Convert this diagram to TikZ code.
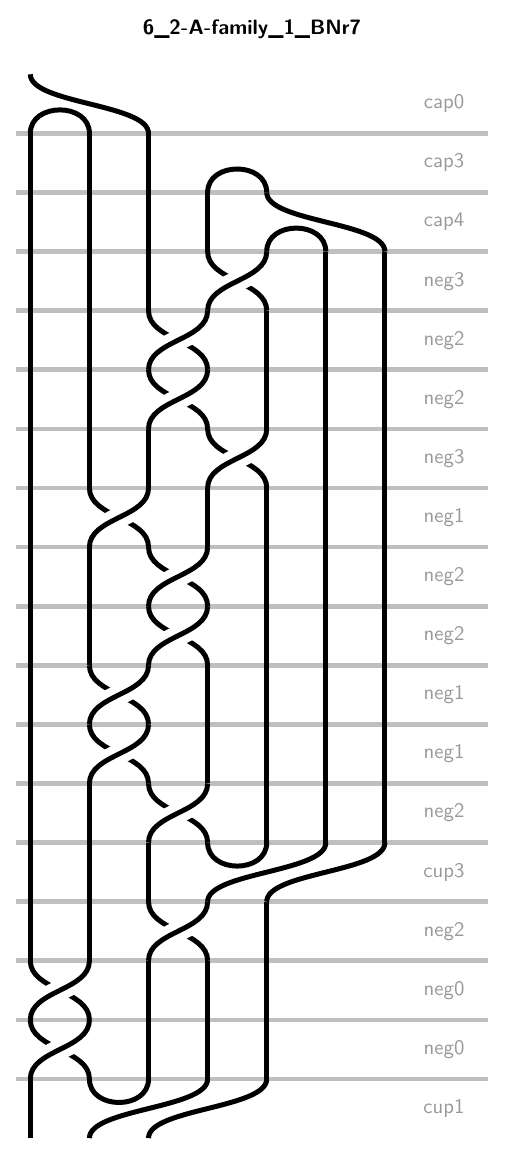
\documentclass[tikz,border=0pt]{standalone}
\tikzset{
 strand/.style={line width=2.4pt,black},
 halo/.style={line width=10pt,white},
 rail/.style={line width=2.3pt,gray!50},
 lbl/.style={text=gray!80,font=\sffamily},
}
\newcommand\vst[2]{\draw[strand] (#1,-#2) -- (#1,-#2-1);}
\newcommand\crs[2]{%
 \draw[strand] (#1,-#2) .. controls (#1,-#2-0.5) and (#1+1,-#2-0.5) .. (#1+1,-#2-1);
 \begin{scope}\clip (#1-0.2,-#2-0.25) rectangle (#1+1.2,-#2-0.75);
 \draw[halo] (#1+1,-#2) .. controls (#1+1,-#2-0.5) and (#1,-#2-0.5) .. (#1,-#2-1);\end{scope}
 \draw[strand] (#1+1,-#2) .. controls (#1+1,-#2-0.5) and (#1,-#2-0.5) .. (#1,-#2-1);}
\newcommand\capx[2]{\draw[strand] (#1,-#2-1) .. controls (#1,-#2-0.47) and (#1+1,-#2-0.47) .. (#1+1,-#2-1);}
\newcommand\cupx[2]{\draw[strand] (#1,-#2) .. controls (#1,-#2-0.53) and (#1+1,-#2-0.53) .. (#1+1,-#2);}
\newcommand\shf[3]{\draw[strand] (#1,-#3) .. controls (#1,-#3-0.5) and (#2,-#3-0.5) .. (#2,-#3-1);}
\begin{document}
\begin{tikzpicture}
\useasboundingbox (-0.513,-18.523) rectangle (8.032,1.257);
\node[font=\sffamily\bfseries] (title) at (3.75,0.767) {6\_2-A-family\_1\_BNr7};
% rails
\foreach \r in {1,...,17} {\draw[rail] (-0.242,-\r) -- (7.745,-\r);}
% labels
\foreach \t [count=\k from 0] in {cap0,cap3,cap4,neg3,neg2,neg2,neg3,neg1,neg2,neg2,neg1,neg1,neg2,cup3,neg2,neg0,neg0,cup1}
 {\node[lbl] (lab\k) at (7,-\k-0.5) {\t};}
% band 0: cap0
\shf{0}{2}{0} \capx{0}{0}
% band 1: cap3
\foreach \c in {0,1,2} {\vst{\c}{1}} \capx{3}{1}
% band 2: cap4
\foreach \c in {0,1,2,3} {\vst{\c}{2}} \capx{4}{2} \shf{4}{6}{2}
% band 3: neg3
\foreach \c in {0,1,2,5,6} {\vst{\c}{3}} \crs{3}{3}
% band 4,5: neg2
\foreach \c in {0,1,4,5,6} {\vst{\c}{4}} \crs{2}{4}
\foreach \c in {0,1,4,5,6} {\vst{\c}{5}} \crs{2}{5}
% band 6: neg3
\foreach \c in {0,1,2,5,6} {\vst{\c}{6}} \crs{3}{6}
% band 7: neg1
\foreach \c in {0,3,4,5,6} {\vst{\c}{7}} \crs{1}{7}
% band 8,9: neg2
\foreach \c in {0,1,4,5,6} {\vst{\c}{8}} \crs{2}{8}
\foreach \c in {0,1,4,5,6} {\vst{\c}{9}} \crs{2}{9}
% band 10,11: neg1
\foreach \c in {0,3,4,5,6} {\vst{\c}{10}} \crs{1}{10}
\foreach \c in {0,3,4,5,6} {\vst{\c}{11}} \crs{1}{11}
% band 12: neg2
\foreach \c in {0,1,4,5,6} {\vst{\c}{12}} \crs{2}{12}
% band 13: cup3
\foreach \c in {0,1,2} {\vst{\c}{13}} \cupx{3}{13} \shf{5}{3}{13} \shf{6}{4}{13}
% band 14: neg2
\foreach \c in {0,1,4} {\vst{\c}{14}} \crs{2}{14}
% band 15,16: neg0
\foreach \c in {2,3,4} {\vst{\c}{15}} \crs{0}{15}
\foreach \c in {2,3,4} {\vst{\c}{16}} \crs{0}{16}
% band 17: cup1
\vst{0}{17} \cupx{1}{17} \shf{3}{1}{17} \shf{4}{2}{17}
\end{tikzpicture}
\end{document}
